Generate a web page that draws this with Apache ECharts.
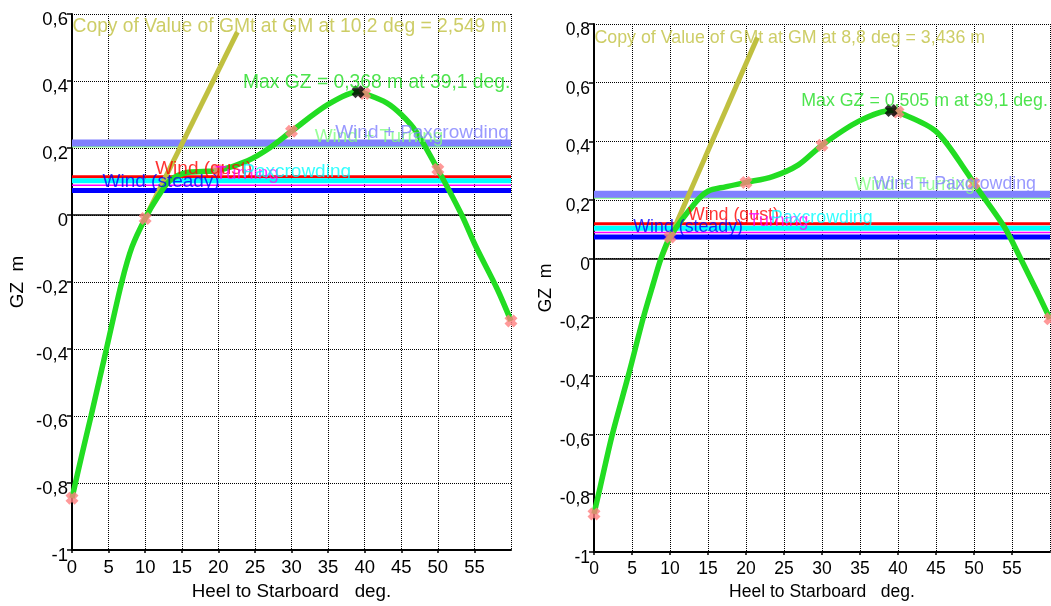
<!DOCTYPE html>
<html><head><meta charset="utf-8">
<script src="https://cdn.jsdelivr.net/npm/echarts@6/dist/echarts.min.js"></script>
<style>html,body{margin:0;padding:0;background:#fff}#c{width:1051px;height:606px}</style>
</head><body><div id="c"></div>
<script>
// ---------- DATA ----------
const heelLeft = [0, 1.3, 2.6, 4.7, 6.8, 8.2, 10, 11.7, 13.4, 15.7, 17.9, 20, 24, 27, 30, 35, 39.1, 40, 43, 45, 47, 50, 53.2, 55.2, 58.1, 60];
const gzLeft   = [-0.845, -0.72, -0.6, -0.4, -0.2, -0.095, -0.01, 0.053, 0.103, 0.127, 0.13, 0.133, 0.162, 0.2, 0.25, 0.33, 0.368, 0.363, 0.335, 0.30, 0.25, 0.136, 0.003, -0.094, -0.22, -0.316];
const heelRight = [0, 0.8, 2.4, 4.5, 6.5, 7.8, 8.8, 10, 13.3, 15, 17.3, 20, 23.5, 26.9, 30, 34.8, 39.1, 40, 45, 49.3, 50, 54, 56.2, 58.4, 60];
const gzRight   = [-0.87, -0.78, -0.6, -0.4, -0.2, -0.085, 0, 0.074, 0.19, 0.23, 0.245, 0.26, 0.28, 0.32, 0.387, 0.468, 0.505, 0.50, 0.434, 0.285, 0.256, 0.108, -0.003, -0.118, -0.205];

const markerHeel = [0, 10, 20, 30, 40, 50, 60];
const markerGzLeft = [-0.845, -0.01, 0.133, 0.25, 0.363, 0.136, -0.316];
const markerGzRight = [-0.87, 0.074, 0.26, 0.387, 0.50, 0.256, -0.205];

const maxHeelLeft = 39.1, maxGzLeft = 0.368;
const maxHeelRight = 39.1, maxGzRight = 0.505;

const armNames = ['Wind + Turning', 'Wind + Paxcrowding', 'Wind (gust)', 'Paxcrowding', 'Turning', 'Wind (steady)'];
const armLeft  = [0.205, 0.215, 0.114, 0.102, 0.089, 0.073];
const armRight = [0.209, 0.22, 0.119, 0.104, 0.089, 0.074];

const gmHeelLeft = [10.2, 22.6], gmGzLeft = [0, 0.546];
const gmHeelRight = [8.8, 21.5], gmGzRight = [0, 0.754];

const gmTextLeft = 'Copy of Value of GMt at GM at 10,2 deg = 2,549 m';
const gmTextRight = 'Copy of Value of GMt at GM at 8,8 deg = 3,436 m';
const maxTextLeft = 'Max GZ = 0,368 m at 39,1 deg.';
const maxTextRight = 'Max GZ = 0,505 m at 39,1 deg.';

const xMin = 0, xMax = 60, xStep = 5;
const yMin = -1, yMaxLeft = 0.6, yMaxRight = 0.8, yStep = 0.2;
const xTitle = 'Heel to Starboard   deg.';
const yTitle = 'GZ  m';

// ---------- STYLE / LAYOUT ----------
const FONT = "'Liberation Sans', Arial, sans-serif";
const FONTS = [
  {tick: 18.5, title: 18.8, arm: 19, note: 19.3},
  {tick: 17.5, title: 17.5, arm: 17.8, note: 17.8}
];
const armStyle = [
  {color: '#80ff80', width: 2.5},
  {color: '#8080ff', width: 7},
  {color: '#ff0000', width: 3},
  {color: '#00ffff', width: 5},
  {color: '#ff00ff', width: 1.5},
  {color: '#0000ff', width: 5}
];
// label anchors (heel, gz) per arm, per chart
const armLabelLeft  = [[33.1, 0.24], [35.9, 0.251], [11.3, 0.145], [23.2, 0.136], [19.5, 0.13], [4.1, 0.106]];
const armLabelRight = [[34.2, 0.257], [36.7, 0.26], [12.3, 0.155], [23.2, 0.145], [20.3, 0.135], [5.1, 0.114]];
const gmLabelLeft = [0, 0.567], gmLabelRight = [0, 0.758];
const maxLabelLeft = [23.3, 0.40], maxLabelRight = [27.2, 0.545];
const labelOrder = [5, 2, 4, 3, 0, 1];

const GREEN = '#22dd22', OLIVE = '#c0c040', PINK = '#ff8080';
const XSYM = 'path://M0,3 L3,0 L5,2 L7,0 L10,3 L8,5 L10,7 L7,10 L5,8 L3,10 L0,7 L2,5 Z';
const GRIDLINE = {color: '#000', width: 1, type: [1, 1]};

const fmt = v => {
  const r = Math.round(v * 10) / 10;
  return '{a|' + String(r).replace('.', ',') + '}';
};

function xAxisCfg(gi, gap) {
  const f = FONTS[gi];
  return {
    type: 'value', gridIndex: gi, min: xMin, max: xMax, interval: xStep,
    name: xTitle, nameLocation: 'middle', nameGap: gap,
    nameTextStyle: {color: '#000', fontSize: f.title, fontFamily: FONT},
    axisLine: {show: true, onZero: false, lineStyle: {color: '#000', width: 2}},
    axisTick: {show: true, length: 3, lineStyle: {color: '#000', width: 1.5}},
    axisLabel: {color: '#000', fontSize: f.tick, fontFamily: FONT, margin: 8, showMaxLabel: false},
    splitLine: {show: true, lineStyle: GRIDLINE}
  };
}
function yAxisCfg(gi, max, gap) {
  const f = FONTS[gi];
  return {
    type: 'value', gridIndex: gi, min: yMin, max: max, interval: yStep,
    name: yTitle, nameLocation: 'middle', nameGap: gap, nameRotate: 90,
    nameTextStyle: {color: '#000', fontSize: f.title, fontFamily: FONT},
    axisLine: {show: true, onZero: false, lineStyle: {color: '#000', width: 2}},
    axisTick: {show: true, length: 5, lineStyle: {color: '#000', width: 1.5}},
    axisLabel: {color: '#000', fontSize: f.tick, fontFamily: FONT, margin: 4, formatter: fmt,
      rich: {a: {color: '#000', fontSize: f.tick, fontFamily: FONT, padding: [12, 0, 0, 0]}}},
    splitLine: {show: true, lineStyle: GRIDLINE}
  };
}

function seriesFor(gi, heel, gz, mGz, maxH, maxG, arms, armLbl, gmH, gmG, gmLbl, gmText, maxLbl, maxText) {
  const f = FONTS[gi];
  const s = [];
  const ax = {xAxisIndex: gi, yAxisIndex: gi};
  arms.forEach((v, i) => {
    const ser = Object.assign({
      type: 'line', name: armNames[i], data: [[xMin, v], [xMax, v]],
      showSymbol: false, silent: true, z: 2,
      lineStyle: {color: armStyle[i].color, width: armStyle[i].width}
    }, ax);
    if (i === 0) {
      ser.markLine = {silent: true, symbol: 'none', label: {show: false},
        lineStyle: {color: '#000', width: 1.5, type: 'solid'}, data: [{yAxis: 0}], z: 1};
    }
    s.push(ser);
  });
  s.push(Object.assign({
    type: 'line', data: gmH.map((h, i) => [h, gmG[i]]), showSymbol: false, z: 3,
    lineStyle: {color: OLIVE, width: 5}
  }, ax));
  s.push(Object.assign({
    type: 'line', data: heel.map((h, i) => [h, gz[i]]), showSymbol: false,
    smooth: 0.3, z: 4,
    lineStyle: {color: GREEN, width: 5.5}
  }, ax));
  s.push(Object.assign({
    type: 'scatter', data: markerHeel.map((h, i) => [h, mGz[i]]), symbol: XSYM, symbolSize: 13, z: 5,
    itemStyle: {color: PINK}
  }, ax));
  s.push(Object.assign({
    type: 'scatter', data: [[maxH, maxG]], symbol: XSYM, symbolSize: 13, z: 6,
    itemStyle: {color: '#000'}
  }, ax));
  const txt = (pos, text, color, z, size) => Object.assign({
    type: 'scatter', data: [pos], symbolSize: 1, z: z, silent: true, clip: false,
    itemStyle: {color: 'rgba(0,0,0,0)'},
    label: {show: true, position: 'right', distance: 0, offset: [0, 2], formatter: text,
      color: color, fontSize: size, fontFamily: FONT}
  }, ax);
  labelOrder.forEach((i, k) => s.push(txt(armLbl[i], armNames[i], armStyle[i].color, 7 + k * 0.01, f.arm)));
  s.push(txt(gmLbl, gmText, OLIVE, 8, f.note));
  s.push(txt(maxLbl, maxText, GREEN, 8, f.note));
  return s;
}

const chart = echarts.init(document.getElementById('c'), null, {renderer: 'canvas'});
chart.setOption({
  animation: false,
  backgroundColor: '#fff',
  grid: [
    {left: 72, top: 14, right: 540, bottom: 49},
    {left: 594, top: 24, right: 1, bottom: 47}
  ],
  xAxis: [xAxisCfg(0, 25), xAxisCfg(1, 28)],
  yAxis: [yAxisCfg(0, yMaxLeft, 45), yAxisCfg(1, yMaxRight, 39)],
  series: [
    ...seriesFor(0, heelLeft, gzLeft, markerGzLeft, maxHeelLeft, maxGzLeft, armLeft, armLabelLeft,
      gmHeelLeft, gmGzLeft, gmLabelLeft, gmTextLeft, maxLabelLeft, maxTextLeft),
    ...seriesFor(1, heelRight, gzRight, markerGzRight, maxHeelRight, maxGzRight, armRight, armLabelRight,
      gmHeelRight, gmGzRight, gmLabelRight, gmTextRight, maxLabelRight, maxTextRight)
  ]
});
</script></body></html>
